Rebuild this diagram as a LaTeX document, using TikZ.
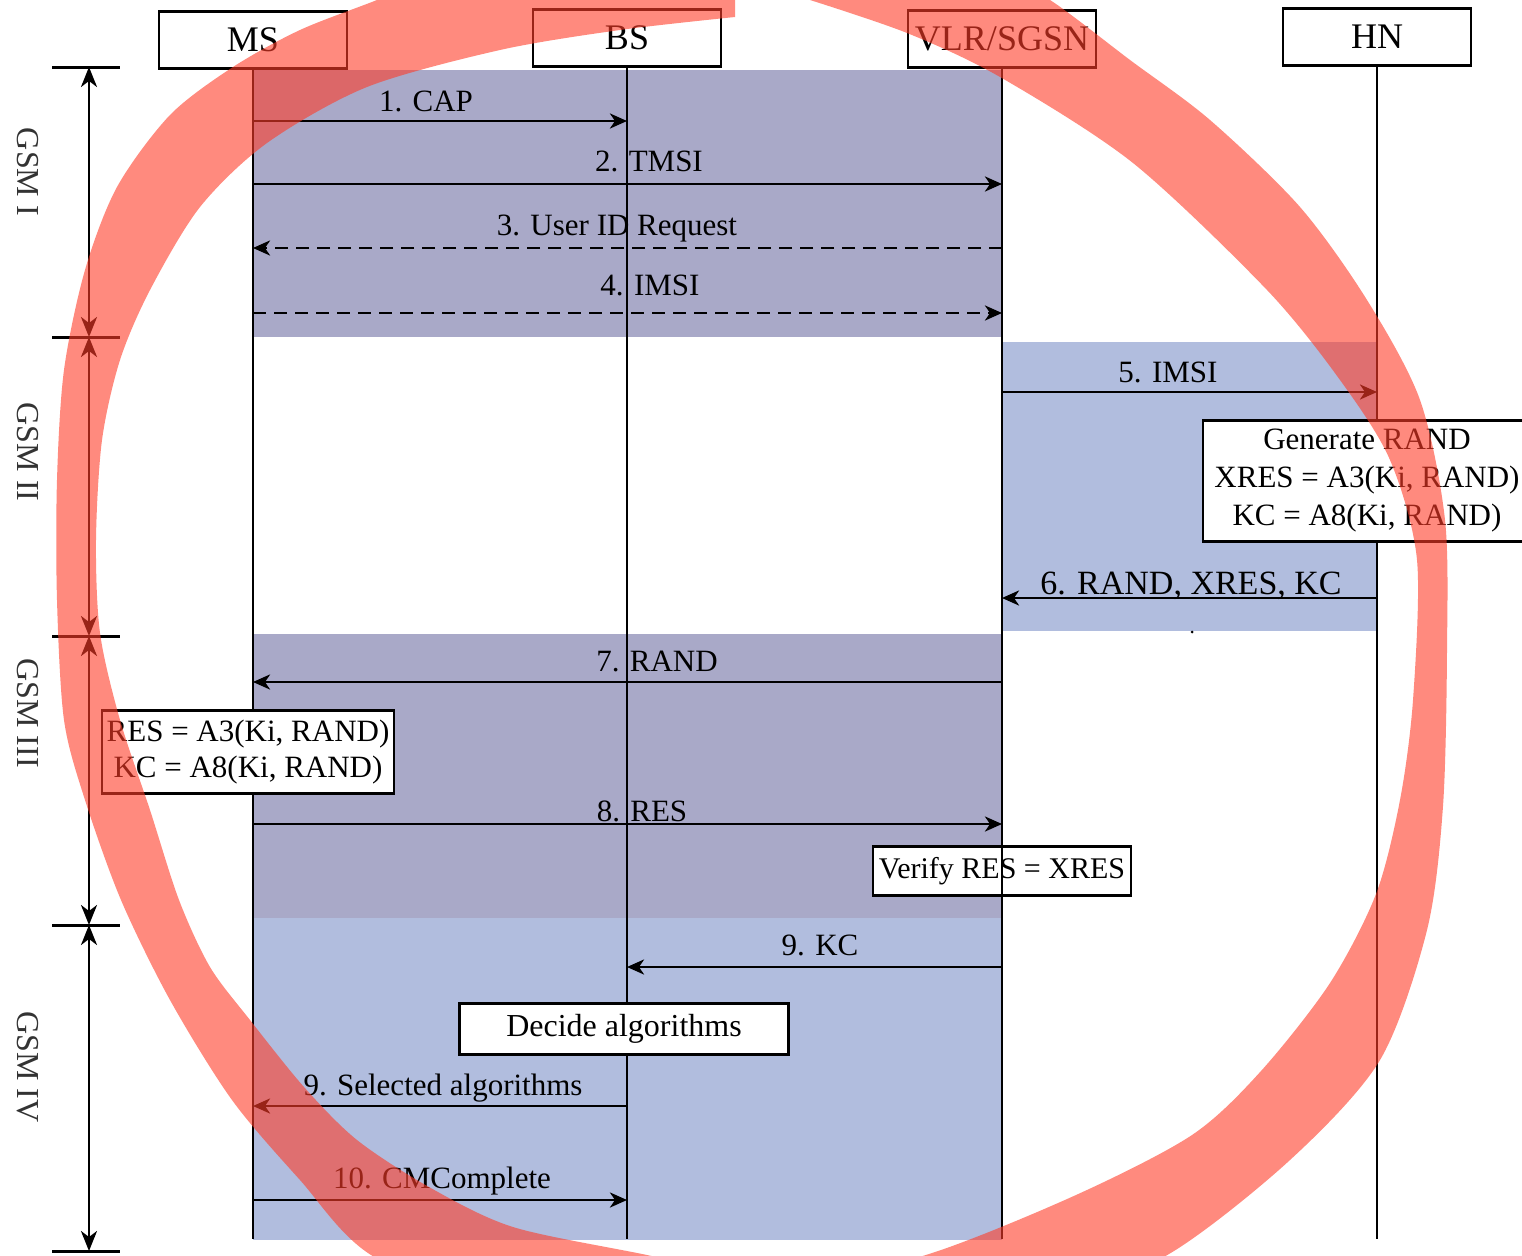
\documentclass[tikz,border=0pt]{standalone}
\usepackage{fontspec}
\setmainfont{Liberation Serif}
\usetikzlibrary{arrows.meta}
\definecolor{lav}{HTML}{A9A9C8}
\definecolor{lblue}{HTML}{B1BDDE}
\definecolor{ringred}{RGB}{255,60,40}
\begin{document}
\begin{tikzpicture}[x=1pt,y=-1pt,
  hdr/.style={draw, line width=2.6pt, fill=white, minimum width=188pt, minimum height=57pt, inner sep=0pt, font=\fontsize{36}{40}\selectfont},
  lifeline/.style={line width=2.4pt},
  msg/.style={line width=2.8pt, -{Stealth[length=17pt,width=15pt,inset=5pt]}},
  dmsg/.style={msg, dash pattern=on 13pt off 8pt},
  lbl/.style={anchor=base, font=\fontsize{31}{36}\selectfont, inner sep=0pt},
  calcbox/.style={draw, line width=2.6pt, fill=white, align=center, inner sep=0pt},
  phasearrow/.style={line width=2.6pt, {Stealth[length=20pt,width=16pt,inset=6pt]}-{Stealth[length=20pt,width=16pt,inset=6pt]}},
  tickline/.style={line width=3pt},
  gsm/.style={rotate=-90, font=\fontsize{32}{36}\selectfont, text=black!80}
]
\useasboundingbox (0,0) rectangle (1522,1255);
\fill[white] (0,0) rectangle (1522,1255);

% phase regions
\fill[lav]   (253,70)   rectangle (1002,337);
\fill[lblue] (1002,342) rectangle (1377,631);
\fill[lav]   (253,634)  rectangle (1001,918);
\fill[lblue] (253,918)  rectangle (1002,1240);

% participants
\node[hdr] (ms)  at (253,40)  {MS};
\node[hdr] (bs)  at (627,38)  {BS};
\node[hdr] (vlr) at (1002,39) {VLR/SGSN};
\node[hdr] (hn)  at (1377,37) {HN};

% box lying under the VLR lifeline
\node[calcbox, minimum width=258pt, minimum height=49pt, font=\fontsize{30}{36}\selectfont] (verify) at (1002,871) {Verify RES = XRES};

% lifelines
\coordinate (bottom) at (0,1239);
\draw[lifeline] (ms)  -- (ms |- bottom);
\draw[lifeline] (bs)  -- (bs |- bottom);
\draw[lifeline] (vlr) -- (vlr |- bottom);
\draw[lifeline] (hn)  -- (hn |- bottom);

% computation boxes
\node[calcbox, minimum width=328pt, minimum height=121pt, font=\fontsize{31}{38}\selectfont] (gen) at (1367,481) {Generate RAND\\XRES = A3(Ki, RAND)\\KC = A8(Ki, RAND)};
\node[calcbox, minimum width=292pt, minimum height=83pt, font=\fontsize{31}{36}\selectfont] (res) at (248,752) {RES = A3(Ki, RAND)\\KC = A8(Ki, RAND)};
\node[calcbox, minimum width=329pt, minimum height=51pt, font=\fontsize{32}{36}\selectfont] (decide) at (624,1029) {Decide algorithms};

% message levels
\coordinate (y1) at (0,121);
\coordinate (y2) at (0,184);
\coordinate (y3) at (0,248);
\coordinate (y4) at (0,313);
\coordinate (y5) at (0,392);
\coordinate (y6) at (0,598);
\coordinate (y7) at (0,682);
\coordinate (y8) at (0,824);
\coordinate (y9) at (0,967);
\coordinate (y10) at (0,1106);
\coordinate (y11) at (0,1200);

\draw[msg]  (ms |- y1)  -- (bs |- y1);
\draw[msg]  (ms |- y2)  -- (vlr |- y2);
\draw[dmsg] (vlr |- y3) -- (ms |- y3);
\draw[dmsg] (ms |- y4)  -- (vlr |- y4);
\draw[msg]  (vlr |- y5) -- (hn |- y5);
\draw[msg]  (hn |- y6)  -- (vlr |- y6);
\draw[msg]  (vlr |- y7) -- (ms |- y7);
\draw[msg]  (ms |- y8)  -- (vlr |- y8);
\draw[msg]  (vlr |- y9) -- (bs |- y9);
\draw[msg]  (bs |- y10) -- (ms |- y10);
\draw[msg]  (ms |- y11) -- (bs |- y11);

\node[lbl] (l1)  at (426,111)  {1. CAP};
\node[lbl] (l2)  at (649,171)  {2. TMSI};
\node[lbl] (l3)  at (617,235)  {3. User ID Request};
\node[lbl] (l4)  at (650,295)  {4. IMSI};
\node[lbl] (l5)  at (1168,382) {5. IMSI};
\node[lbl, font=\fontsize{34}{38}\selectfont] (l6) at (1191,594) {6. RAND, XRES, KC};
\node[lbl] (l7)  at (657,671)  {7. RAND};
\node[lbl] (l8)  at (642,821)  {8. RES};
\node[lbl] (l9)  at (820,955)  {9. KC};
\node[lbl] (l10) at (443,1095) {9. Selected algorithms};
\node[lbl] (l11) at (442,1188) {10. CMComplete};
\fill (1192,632) circle (1.5);

% phase bracket
\coordinate (t0) at (89,67);
\coordinate (t1) at (89,337);
\coordinate (t2) at (89,636);
\coordinate (t3) at (89,925);
\coordinate (t4) at (89,1251);
\foreach \t in {t0,t1,t2,t3,t4}
  \draw[tickline] ([xshift=-37pt]\t) -- ([xshift=31pt]\t);
\draw[phasearrow] (t0) -- (t1);
\draw[phasearrow] (t1) -- (t2);
\draw[phasearrow] (t2) -- (t3);
\draw[phasearrow] (t3) -- (t4);
\node[gsm] (g1) at (28,172)  {GSM I};
\node[gsm] (g2) at (28,452)  {GSM II};
\node[gsm] (g3) at (28,713)  {GSM III};
\node[gsm] (g4) at (28,1067) {GSM IV};

% hand-drawn red loop (open at the top)
\begin{scope}
\clip (0,0) rectangle (1522,1255);
\fill[ringred, fill opacity=0.6]
  plot[smooth] coordinates {(450,-30) (377,0) (300,30) (233,67) (170,115) (117,187) (85,270) (64,370) (57,480) (57,600) (64,720) (85,800) (121,900) (170,1000) (232,1100) (300,1180) (371,1255) (520,1320) (800,1340) (1050,1300) (1169,1254) (1290,1160) (1380,1060) (1427,930) (1443,806) (1447,650) (1445,520) (1420,400) (1367,300) (1300,207) (1210,120) (1130,60) (1050,0) (990,-30)}
  -- (780,-30)
  -- plot[smooth] coordinates {(810,0) (907,33) (1000,77) (1133,163) (1267,290) (1340,380) (1390,460) (1417,560) (1413,700) (1400,800) (1376,894) (1330,983) (1261,1071) (1192,1135) (1076,1195) (929,1254) (790,1285) (647,1255) (513,1227) (429,1187) (357,1140) (304,1087) (250,1020) (210,967) (179,900) (150,810) (120,720) (100,633) (96,540) (102,440) (120,360) (150,290) (200,207) (267,143) (367,87) (500,50) (620,30) (735,17)}
  -- (735,-30) -- cycle;
\end{scope}
\end{tikzpicture}
\end{document}
